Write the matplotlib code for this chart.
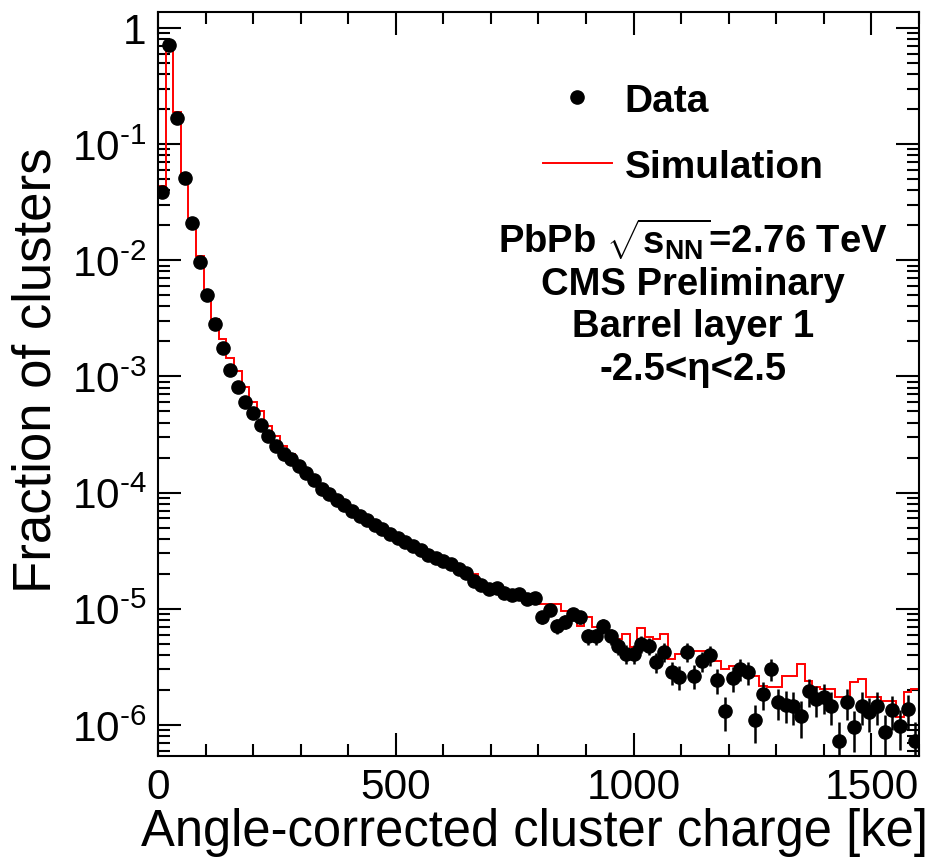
import numpy as np
import matplotlib
matplotlib.use("Agg")
import matplotlib.pyplot as plt
from matplotlib.ticker import FixedLocator, LogLocator, NullFormatter, MultipleLocator

plt.rcParams['font.family'] = ['Liberation Sans', 'DejaVu Sans']
plt.rcParams['mathtext.fontset'] = 'custom'
plt.rcParams['mathtext.rm'] = 'Liberation Sans'
plt.rcParams['mathtext.it'] = 'Liberation Sans:italic'
plt.rcParams['mathtext.bf'] = 'Liberation Sans:bold'

# 100 bins of 16 ke from 0 to 1600 ke
bin_width = 16
n_bins = 100

data_frac = [
    0.0386, 0.711, 0.168, 0.0509, 0.0209, 0.00964, 0.00501, 0.00282, 0.00175, 0.00114,
    8.1e-4, 6.0e-4, 4.84e-4, 3.82e-4, 3.07e-4, 2.52e-4, 2.15e-4, 1.95e-4, 1.69e-4, 1.48e-4,
    1.28e-4, 1.07e-4, 9.7e-5, 8.6e-5, 7.8e-5, 6.95e-5, 6.3e-5, 5.8e-5, 5.26e-5, 4.86e-5,
    4.4e-5, 4.06e-5, 3.76e-5, 3.47e-5, 3.2e-5, 2.9e-5, 2.74e-5, 2.58e-5, 2.43e-5, 2.2e-5,
    2.03e-5, 1.73e-5, 1.6e-5, 1.48e-5, 1.51e-5, 1.37e-5, 1.32e-5, 1.34e-5, 1.21e-5, 1.24e-5,
    8.5e-6, 9.8e-6, 7.1e-6, 7.7e-6, 9.0e-6, 8.5e-6, 5.83e-6, 5.83e-6, 7.1e-6, 5.83e-6,
    4.79e-6, 4.08e-6, 4.08e-6, 4.98e-6, 4.79e-6, 3.48e-6, 4.25e-6, 2.86e-6, 2.59e-6, 4.25e-6,
    2.64e-6, 3.56e-6, 4.0e-6, 2.44e-6, 1.32e-6, 2.54e-6, 3.03e-6, 2.86e-6, 1.10e-6, 1.85e-6,
    3.03e-6, 1.58e-6, 1.49e-6, 1.46e-6, 1.19e-6, 1.96e-6, 1.67e-6, 1.74e-6, 1.46e-6, 7.3e-7,
    1.58e-6, 9.6e-7, 1.46e-6, 1.29e-6, 1.46e-6, 8.7e-7, 1.35e-6, 9.8e-7, 1.37e-6, 7.3e-7,
]

sim_frac = [
    0.0435, 0.74, 0.188, 0.053, 0.0226, 0.0109, 0.00464, 0.00312, 0.0021, 0.00144,
    0.00111, 8.1e-4, 6.0e-4, 5.04e-4, 3.74e-4, 3.07e-4, 2.52e-4, 2.15e-4, 1.83e-4, 1.6e-4,
    1.39e-4, 1.19e-4, 1.05e-4, 9.35e-5, 8.5e-5, 7.5e-5, 6.8e-5, 6.3e-5, 5.7e-5, 5.26e-5,
    4.77e-5, 4.3e-5, 4.0e-5, 3.68e-5, 3.4e-5, 3.08e-5, 2.9e-5, 2.74e-5, 2.58e-5, 2.38e-5,
    2.2e-5, 1.99e-5, 1.73e-5, 1.6e-5, 1.54e-5, 1.45e-5, 1.37e-5, 1.32e-5, 1.26e-5, 1.21e-5,
    1.1e-5, 1.1e-5, 1.1e-5, 9.6e-6, 9.6e-6, 7.1e-6, 8.5e-6, 7.0e-6, 6.4e-6, 5.95e-6,
    5.5e-6, 6.07e-6, 4.69e-6, 6.84e-6, 5.7e-6, 5.5e-6, 6.07e-6, 3.7e-6, 4.08e-6, 4.08e-6,
    4.34e-6, 4.34e-6, 3.56e-6, 3.56e-6, 3.03e-6, 3.22e-6, 3.03e-6, 2.92e-6, 2.64e-6, 2.17e-6,
    2.12e-6, 2.12e-6, 2.64e-6, 2.64e-6, 3.35e-6, 2.39e-6, 2.12e-6, 2.04e-6, 2.04e-6, 1.74e-6,
    1.74e-6, 2.34e-6, 2.49e-6, 1.74e-6, 1.74e-6, 1.61e-6, 1.61e-6, 1.17e-6, 1.92e-6, 2.04e-6,
]

# number of clusters behind the fractions (sets the Poisson error bars)
n_clusters = 7e6

x_ticks = [0, 500, 1000, 1500]
y_ticks = [1e-6, 1e-5, 1e-4, 1e-3, 1e-2, 1e-1, 1]
y_tick_labels = [r'$10^{\text{-}6}$', r'$10^{\text{-}5}$', r'$10^{\text{-}4}$',
                 r'$10^{\text{-}3}$', r'$10^{\text{-}2}$', r'$10^{\text{-}1}$', '1']

info_lines = [r'PbPb $\sqrt{\mathbf{s}_{\mathbf{NN}}}$=2.76 TeV',
              'CMS Preliminary', 'Barrel layer 1', '-2.5<η<2.5']

edges = np.arange(n_bins + 1) * bin_width
centres = edges[:-1] + bin_width / 2
data = np.array(data_frac)
data_err = np.sqrt(data * n_clusters) / n_clusters

fig = plt.figure(figsize=(9.38, 8.62), dpi=100)
ax = fig.add_axes([0.1684, 0.1218, 0.8113, 0.8631])

sim = ax.stairs(sim_frac, edges, color='red', lw=1.4, baseline=None,
                label='Simulation', zorder=2)
ax.errorbar(centres, data, yerr=data_err, fmt='none', ecolor='black',
            elinewidth=1.8, capsize=0, zorder=3)
pts, = ax.plot(centres, data, 'o', color='black', ms=9.5, label='Data', zorder=4)

ax.set_yscale('log')
ax.set_xlim(0, 1600)
ax.set_ylim(5.4e-7, 1.37)

ax.xaxis.set_major_locator(FixedLocator(x_ticks))
ax.xaxis.set_minor_locator(MultipleLocator(100))
ax.yaxis.set_major_locator(FixedLocator(y_ticks))
ax.set_yticklabels(y_tick_labels)
ax.yaxis.set_minor_locator(LogLocator(base=10, subs=np.arange(2, 10)))
ax.yaxis.set_minor_formatter(NullFormatter())

ax.tick_params(which='both', direction='in', top=True, right=True, width=1.5)
ax.tick_params(which='major', length=16.5, labelsize=30.5, pad=8)
ax.tick_params(which='minor', length=8.5)
for sp in ax.spines.values():
    sp.set_linewidth(1.5)

ax.set_xlabel('Angle-corrected cluster charge [ke]', fontsize=36.5, loc='right')
ax.xaxis.set_label_coords(1.012, -0.068)
ax.set_ylabel('Fraction of clusters', fontsize=38)
ax.yaxis.set_label_coords(-0.127, 0.52)

ax.legend(handles=[pts, sim], loc='upper left', bbox_to_anchor=(0.506, 0.905),
          frameon=False, borderpad=0, borderaxespad=0, handlelength=1.77,
          handletextpad=0.33, labelspacing=0.78, prop={'weight': 'bold', 'size': 28})

y_pos = [0.695, 0.634, 0.578, 0.520]
for line, yp in zip(info_lines, y_pos):
    ax.text(0.703, yp, line, transform=ax.transAxes, ha='center', va='center',
            fontsize=27.5, fontweight='bold')

fig.savefig('out.png', dpi=100)
